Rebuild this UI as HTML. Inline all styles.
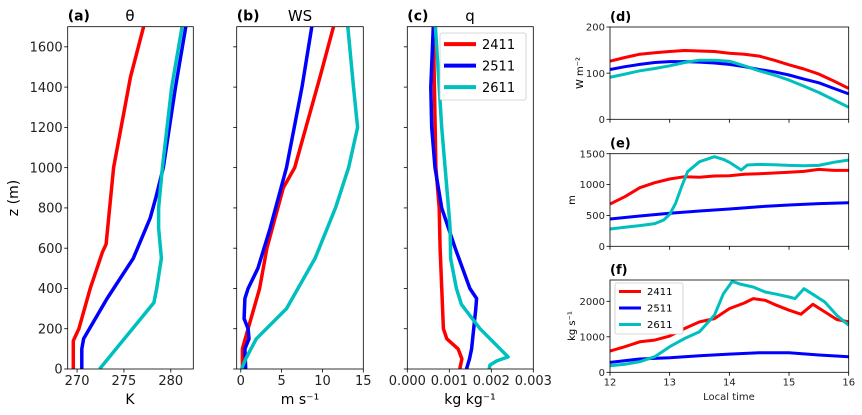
<!DOCTYPE html>
<html><head><meta charset="utf-8"><style>
body{margin:0;background:#fff;}
svg{display:block;font-family:"DejaVu Sans","Liberation Sans",sans-serif;}
</style></head><body>
<svg id="fig" width="862" height="415"></svg>
<script>
// ---- profile data (z in m) ----
const zA_red=[0,140,200,400,580,620,1000,1450,1700];
const thRed=[269.6,269.6,270.2,271.4,272.7,273.1,273.9,275.7,277.1];
const zA_blue=[0,100,150,350,550,750,850,1000,1400,1700];
const thBlue=[270.5,270.5,270.7,273.2,276.0,277.8,278.4,279.2,280.5,281.6];
const zA_cyan=[0,330,400,550,700,800,1000,1400,1700];
const thCyan=[272.4,278.2,278.5,279.0,278.7,278.7,279.1,280.1,281.2];

const zB_red=[0,100,200,400,600,900,1000,1450,1700];
const wsRed=[0.2,0.2,0.9,2.3,3.2,5.2,6.6,9.7,11.35];
const zB_blue=[0,100,150,200,250,350,400,500,700,1000,1400,1700];
const wsBlue=[0.6,0.5,1.0,0.9,0.4,0.5,0.9,2.1,3.6,5.6,7.5,8.7];
const zB_cyan=[0,50,150,300,550,800,1000,1200,1400,1700];
const wsCyan=[0.1,0.6,1.9,5.6,9.1,11.6,13.2,14.3,13.8,13.1];

const zC_red=[0,50,100,150,200,600,800,1000,1700];
const qRed=[0.00125,0.0013,0.00121,0.00094,0.00086,0.00078,0.00076,0.00068,0.00062];
const zC_blue=[0,50,100,300,350,400,600,800,1000,1200,1400,1700];
const qBlue=[0.00141,0.00148,0.00153,0.00163,0.00165,0.00149,0.00114,0.00082,0.00066,0.00058,0.00056,0.00062];
const zC_cyan=[0,20,40,60,200,320,400,550,700,800,1000,1200,1400,1700];
const qCyan=[0.00195,0.00197,0.00213,0.0024,0.00173,0.00129,0.00117,0.00103,0.00102,0.00098,0.0009,0.00082,0.00076,0.00067];

// ---- time series ----
const tQ=[12,12.25,12.5,12.75,13,13.25,13.5,13.75,14,14.25,14.5,14.75,15,15.25,15.5,15.75,16];
const hRed=[126,134,141,144,147,149,148,147,143,141,137,128,118,109,98,83,67];
const hBlue=[108,114,119,123,125,125,124,122,119,114,108,103,96,87,79,67,55];
const hCyan=[91,98,105,110,116,123,128,128,126,116,105,96,85,72,58,42,26];

const tE_red=tQ;
const blRed=[685,804,950,1030,1090,1128,1117,1139,1144,1166,1176,1187,1198,1214,1246,1230,1230];
const tE_blue=[12,12.5,13,13.5,14,14.5,15,15.5,16];
const blBlue=[442,491,534,572,604,642,669,691,707];
const tE_cyan=[12,12.25,12.5,12.75,12.9,13,13.1,13.2,13.3,13.5,13.75,13.9,14,14.2,14.3,14.5,14.75,15,15.25,15.5,15.75,16];
const blCyan=[281,308,335,367,426,518,696,966,1209,1371,1452,1408,1360,1236,1317,1327,1322,1311,1306,1311,1360,1398];

const tF_red=[12,12.25,12.5,12.75,13,13.25,13.5,13.75,14,14.25,14.4,14.6,14.75,15,15.2,15.4,15.6,15.8,16];
const fRed=[598,720,860,907,1019,1234,1421,1514,1794,1953,2075,2028,1916,1748,1636,1916,1701,1486,1421];
const tF_blue=[12,12.5,13,13.5,14,14.5,15,15.5,16];
const fBlue=[280,374,411,467,514,551,551,486,439];
const tF_cyan=[12,12.25,12.5,12.75,13,13.25,13.5,13.75,13.9,14.05,14.2,14.4,14.6,14.8,15,15.1,15.25,15.4,15.6,15.8,16];
const fCyan=[187,224,299,439,720,953,1140,1607,2215,2561,2477,2402,2262,2196,2121,2075,2355,2196,1981,1607,1327];

const NS='http://www.w3.org/2000/svg';
const svg=document.getElementById('fig');
function el(tag,attrs,parent){const e=document.createElementNS(NS,tag);for(const k in attrs)e.setAttribute(k,attrs[k]);(parent||svg).appendChild(e);return e;}
function txt(s,attrs,parent){const e=el('text',attrs,parent);e.textContent=s;return e;}
const RED='#ff0000',BLUE='#0000ff',CYAN='#00bfbf';

function panel(cfg){
  const g=el('g',{});
  
  
  const sx=v=>cfg.x0+(v-cfg.xmin)/(cfg.xmax-cfg.xmin)*(cfg.x1-cfg.x0);
  const sy=v=>cfg.y1-(v-cfg.ymin)/(cfg.ymax-cfg.ymin)*(cfg.y1-cfg.y0);
  const clip='c'+cfg.name;
  const cp=el('clipPath',{id:clip},g);el('rect',{x:cfg.x0,y:cfg.y0,width:cfg.x1-cfg.x0,height:cfg.y1-cfg.y0},cp);
  cfg.series.forEach(s=>{
    const pts=s.xs.map((x,i)=>cfg.profile?`${sx(s.ys[i]).toFixed(1)},${sy(x).toFixed(1)}`:`${sx(x).toFixed(1)},${sy(s.ys[i]).toFixed(1)}`).join(' ');
    const p=el('polyline',{points:pts,fill:'none',stroke:s.c,'stroke-width':cfg.lw,'stroke-linejoin':'round','clip-path':`url(#${clip})`},g);
    
    
  });
  const fr=el('rect',{x:cfg.x0,y:cfg.y0,width:cfg.x1-cfg.x0,height:cfg.y1-cfg.y0,fill:'none',stroke:'#000','stroke-width':0.8},g);
  
  
  cfg.xt.forEach((v,i)=>{
    const x=sx(v);el('line',{x1:x,x2:x,y1:cfg.y1,y2:cfg.y1+3.5,stroke:'#000','stroke-width':0.8},g);
    if(cfg.xl){const t=txt(cfg.xl[i],{x:x,y:cfg.y1+cfg.fs+3,'font-size':cfg.fs,'text-anchor':'middle',fill:'#222'},g);
      }
  });
  cfg.yt.forEach((v,i)=>{
    const y=sy(v);el('line',{x1:cfg.x0-3.5,x2:cfg.x0,y1:y,y2:y,stroke:'#000','stroke-width':0.8},g);
    if(cfg.yl){const t=txt(cfg.yl[i],{x:cfg.x0-5,y:y+cfg.fs*0.36,'font-size':cfg.fs,'text-anchor':'end',fill:'#222'},g);
      }
  });
  const lab=txt(cfg.label,{x:cfg.x0,y:cfg.y0-6,'font-size':cfg.lfs,'font-weight':'bold'},g);
  
  return g;
}
const zt=[0,200,400,600,800,1000,1200,1400,1600];
const zl=zt.map(String);
panel({name:'panel-a-theta',profile:true,x0:67.7,x1:193.3,y0:26.7,y1:369,xmin:269.0,xmax:282.4,ymin:0,ymax:1700,lw:3.5,fs:13,lfs:14,label:'(a)',
  xt:[270,275,280],xl:['270','275','280'],yt:zt,yl:zl,
  series:[{xs:zA_red,ys:thRed,c:RED,n:'theta-2411'},{xs:zA_blue,ys:thBlue,c:BLUE,n:'theta-2511'},{xs:zA_cyan,ys:thCyan,c:CYAN,n:'theta-2611'}]});
panel({name:'panel-b-ws',profile:true,x0:236.7,x1:363.3,y0:26.7,y1:369,xmin:-0.5,xmax:15,ymin:0,ymax:1700,lw:3.5,fs:13,lfs:14,label:'(b)',
  xt:[0,5,10,15],xl:['0','5','10','15'],yt:zt,
  series:[{xs:zB_red,ys:wsRed,c:RED,n:'ws-2411'},{xs:zB_blue,ys:wsBlue,c:BLUE,n:'ws-2511'},{xs:zB_cyan,ys:wsCyan,c:CYAN,n:'ws-2611'}]});
panel({name:'panel-c-q',profile:true,x0:407.3,x1:533.3,y0:26.7,y1:369,xmin:0,xmax:0.003,ymin:0,ymax:1700,lw:3.5,fs:13,lfs:14,label:'(c)',
  xt:[0,0.001,0.002,0.003],xl:['0.000','0.001','0.002','0.003'],yt:zt,
  series:[{xs:zC_red,ys:qRed,c:RED,n:'q-2411'},{xs:zC_blue,ys:qBlue,c:BLUE,n:'q-2511'},{xs:zC_cyan,ys:qCyan,c:CYAN,n:'q-2611'}]});
const tt=[12,13,14,15,16];
panel({name:'panel-d-flux',x0:610,x1:848.7,y0:27,y1:119.3,xmin:12,xmax:16,ymin:0,ymax:200,lw:3,fs:10,lfs:13,label:'(d)',
  xt:tt,yt:[0,100,200],yl:['0','100','200'],
  series:[{xs:tQ,ys:hRed,c:RED,n:'flux-2411'},{xs:tQ,ys:hBlue,c:BLUE,n:'flux-2511'},{xs:tQ,ys:hCyan,c:CYAN,n:'flux-2611'}]});
panel({name:'panel-e-blh',x0:610,x1:848.7,y0:153.7,y1:246.3,xmin:12,xmax:16,ymin:0,ymax:1500,lw:3,fs:10,lfs:13,label:'(e)',
  xt:tt,yt:[0,500,1000,1500],yl:['0','500','1000','1500'],
  series:[{xs:tE_red,ys:blRed,c:RED,n:'blh-2411'},{xs:tE_blue,ys:blBlue,c:BLUE,n:'blh-2511'},{xs:tE_cyan,ys:blCyan,c:CYAN,n:'blh-2611'}]});
panel({name:'panel-f-massflux',x0:610,x1:848.7,y0:280,y1:372.3,xmin:12,xmax:16,ymin:0,ymax:2600,lw:3,fs:10,lfs:13,label:'(f)',
  xt:tt,xl:['12','13','14','15','16'],yt:[0,1000,2000],yl:['0','1000','2000'],
  series:[{xs:tF_red,ys:fRed,c:RED,n:'massflux-2411'},{xs:tF_blue,ys:fBlue,c:BLUE,n:'massflux-2511'},{xs:tF_cyan,ys:fCyan,c:CYAN,n:'massflux-2611'}]});

function addText(s,a,name){const t=txt(s,a);return t;}
addText('θ',{x:130,y:21,'font-size':15,'text-anchor':'middle'},'title-theta');
addText('WS',{x:300,y:21,'font-size':15,'text-anchor':'middle'},'title-ws');
addText('q',{x:470,y:21,'font-size':15,'text-anchor':'middle'},'title-q');
addText('K',{x:130,y:404,'font-size':14,'text-anchor':'middle'},'x-axis-title-a');
addText('m s⁻¹',{x:300,y:404,'font-size':14,'text-anchor':'middle'},'x-axis-title-b');
addText('kg kg⁻¹',{x:470,y:404,'font-size':14,'text-anchor':'middle'},'x-axis-title-c');
addText('z (m)',{x:0,y:0,'font-size':14,'text-anchor':'middle',transform:'translate(18,198) rotate(-90)'},'y-axis-title-a');
addText('W m⁻²',{x:0,y:0,'font-size':10,'text-anchor':'middle',transform:'translate(583,73) rotate(-90)'},'y-axis-title-d');
addText('m',{x:0,y:0,'font-size':10,'text-anchor':'middle',transform:'translate(575,200) rotate(-90)'},'y-axis-title-e');
addText('kg s⁻¹',{x:0,y:0,'font-size':10,'text-anchor':'middle',transform:'translate(575,326) rotate(-90)'},'y-axis-title-f');
addText('Local  time',{x:729,y:400,'font-size':10,'text-anchor':'middle',fill:'#222'},'x-axis-title-f');

function legend(x,y,w,h,fs,lw,gap,name,ll){
  const g=el('g',{});
  
  
  el('rect',{x,y,width:w,height:h,fill:'#fff',stroke:'#ccc','stroke-width':0.8,rx:2},g);
  [['2411',RED],['2511',BLUE],['2611',CYAN]].forEach((e,i)=>{
    const yy=y+h/6+i*gap;
    const ln=el('line',{x1:x+4,x2:x+4+ll,y1:yy,y2:yy,stroke:e[1],'stroke-width':lw},g);
    
    const t=txt(e[0],{x:x+ll+10,y:yy+fs*0.36,'font-size':fs},g);
    
  });
}
legend(440,33,86,67,13,4,21.5,'legend-c',32);
legend(615,283,68,51,10,3,16.5,'legend-f',22);
</script>
</body></html>
